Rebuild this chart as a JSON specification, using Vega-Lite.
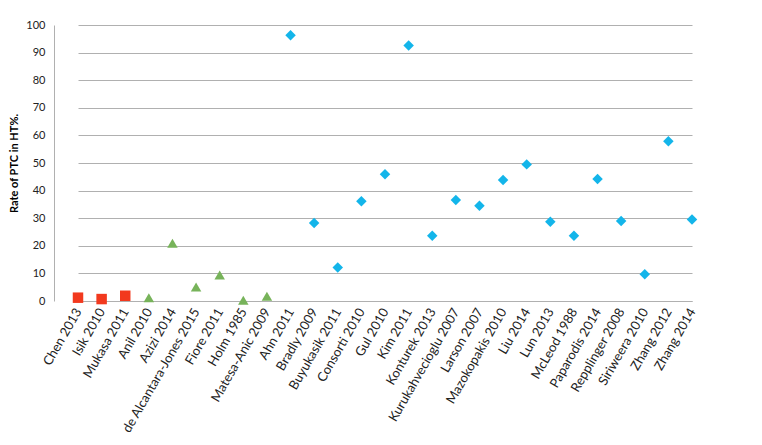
{
  "$schema": "https://vega.github.io/schema/vega-lite/v6.json",
  "autosize": {"type": "none"},
  "padding": {"left": 54, "top": 25, "right": 40, "bottom": 144},
  "width": 668,
  "height": 276,
  "background": "white",
  "config": {
    "view": {"stroke": null},
    "font": "Lato"
  },
  "data": {
    "values": [
      {"study": "Chen 2013", "group": "A", "rate": 1.2},
      {"study": "Isik 2010", "group": "A", "rate": 0.7},
      {"study": "Mukasa 2011", "group": "A", "rate": 1.9},
      {"study": "Anil 2010", "group": "B", "rate": 1.2},
      {"study": "Azizi 2014", "group": "B", "rate": 20.9},
      {"study": "de Alcantara-Jones 2015", "group": "B", "rate": 5.1},
      {"study": "Fiore 2011", "group": "B", "rate": 9.4},
      {"study": "Holm 1985", "group": "B", "rate": 0.3},
      {"study": "Matesa-Anic 2009", "group": "B", "rate": 1.7},
      {"study": "Ahn 2011", "group": "C", "rate": 96.3},
      {"study": "Bradly 2009", "group": "C", "rate": 28.3},
      {"study": "Buyukasik 2011", "group": "C", "rate": 12.1},
      {"study": "Consorti 2010", "group": "C", "rate": 36.1},
      {"study": "Gul 2010", "group": "C", "rate": 45.9},
      {"study": "Kim 2011", "group": "C", "rate": 92.6},
      {"study": "Konturek 2013", "group": "C", "rate": 23.6},
      {"study": "Kurukahvecioglu 2007", "group": "C", "rate": 36.6},
      {"study": "Larson 2007", "group": "C", "rate": 34.5},
      {"study": "Mazokopakis 2010", "group": "C", "rate": 43.8},
      {"study": "Liu 2014", "group": "C", "rate": 49.5},
      {"study": "Lun 2013", "group": "C", "rate": 28.7},
      {"study": "McLeod 1988", "group": "C", "rate": 23.6},
      {"study": "Paparodis 2014", "group": "C", "rate": 44.2},
      {"study": "Repplinger 2008", "group": "C", "rate": 29.0},
      {"study": "Siriweera 2010", "group": "C", "rate": 9.7},
      {"study": "Zhang 2012", "group": "C", "rate": 57.9},
      {"study": "Zhang 2014", "group": "C", "rate": 29.5}
    ]
  },
  "mark": {"type": "point", "filled": true, "opacity": 1},
  "encoding": {
    "x": {
      "field": "study",
      "type": "nominal",
      "sort": null,
      "scale": {"type": "point", "range": [24, 638], "padding": 0},
      "axis": {
        "title": null,
        "labelAngle": -60,
        "labelFontSize": 13,
        "labelColor": "#222222",
        "labelPadding": 8,
        "ticks": false,
        "domainColor": "#b0b0b0",
        "domainWidth": 1,
        "grid": false,
        "labelOverlap": false
      }
    },
    "y": {
      "field": "rate",
      "type": "quantitative",
      "scale": {"domain": [0, 100], "nice": false},
      "axis": {
        "title": "Rate of PTC in HT%.",
        "titleFontSize": 11,
        "titleFontWeight": "bold",
        "titleColor": "#000000",
        "titlePadding": 6,
        "values": [0, 10, 20, 30, 40, 50, 60, 70, 80, 90, 100],
        "labelFontSize": 11,
        "labelColor": "#222222",
        "labelPadding": 9,
        "ticks": false,
        "domainColor": "#b0b0b0",
        "gridColor": "#b0b0b0",
        "gridWidth": 1
      }
    },
    "shape": {
      "field": "group",
      "type": "nominal",
      "scale": {"domain": ["A", "B", "C"], "range": ["square", "triangle-up", "diamond"]},
      "legend": null
    },
    "color": {
      "field": "group",
      "type": "nominal",
      "scale": {"domain": ["A", "B", "C"], "range": ["#f2391e", "#77b35a", "#13b5ea"]},
      "legend": null
    },
    "size": {
      "field": "group",
      "type": "nominal",
      "scale": {"domain": ["A", "B", "C"], "range": [110, 110, 110]},
      "legend": null
    }
  }
}
